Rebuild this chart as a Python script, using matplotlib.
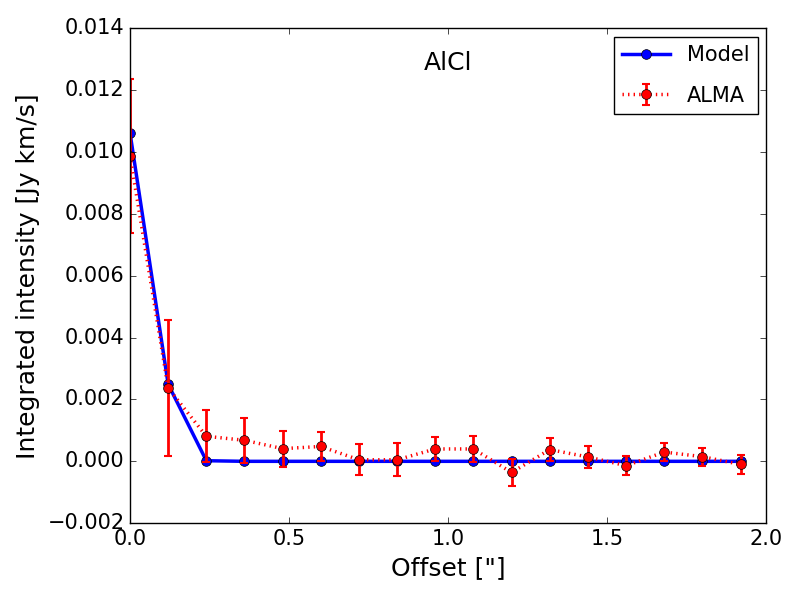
import numpy as np
import matplotlib
matplotlib.use("Agg")
import matplotlib.pyplot as plt
from matplotlib.ticker import FuncFormatter

plt.style.use("classic")

# Radial offsets ["]
offset = [0.00, 0.12, 0.24, 0.36, 0.48, 0.60, 0.72, 0.84, 0.96,
          1.08, 1.20, 1.32, 1.44, 1.56, 1.68, 1.80, 1.92]

# Model integrated intensity [Jy km/s]
model = [0.01062, 0.00249, 0.00002, 0.0, 0.0, 0.0, 0.0, 0.0, 0.0,
         0.0, 0.0, 0.0, 0.0, 0.0, 0.0, 0.0, 0.0]

# ALMA observed integrated intensity and errors [Jy km/s]
alma = [0.00988, 0.00237, 0.00081, 0.00068, 0.00041, 0.00048, 0.00005, 0.00005, 0.00040,
        0.00040, -0.00036, 0.00038, 0.00014, -0.00014, 0.00030, 0.00015, -0.00010]
alma_err = [0.00249, 0.00221, 0.00084, 0.00072, 0.00058, 0.00047, 0.00050, 0.00054, 0.00039,
            0.00043, 0.00045, 0.00037, 0.00035, 0.00030, 0.00030, 0.00029, 0.00032]

fig = plt.figure(figsize=(8, 6), dpi=100)
ax = fig.add_axes([0.1625, 0.128, 0.795, 0.825])

ax.plot(offset, model, "o-", color="blue", lw=2.5, ms=7, label="Model")
ax.errorbar(offset, alma, yerr=alma_err, fmt="o:", color="red", ecolor="red",
            lw=2.5, elinewidth=2, capsize=3, capthick=1.5, ms=7, label="ALMA")

ax.set_xlim(0.0, 2.0)
ax.set_ylim(-0.002, 0.014)
ax.set_xticks(np.arange(0.0, 2.01, 0.5))
ax.set_yticks(np.arange(-0.002, 0.0141, 0.002))
ax.tick_params(labelsize=15)
ax.yaxis.set_major_formatter(FuncFormatter(lambda v, p: ("%.3f" % v).replace("-", "\u2212")))
ax.set_xlabel('Offset ["]', fontsize=18)
ax.set_ylabel("Integrated intensity [Jy km/s]", fontsize=18)
ax.text(0.5, 0.93, "AlCl", transform=ax.transAxes, ha="center", va="center", fontsize=18)

ax.legend(loc="upper right", numpoints=1, fontsize=15, labelspacing=1.0,
          borderaxespad=0.4, handlelength=2.3)

fig.savefig("out.png", dpi=100)
